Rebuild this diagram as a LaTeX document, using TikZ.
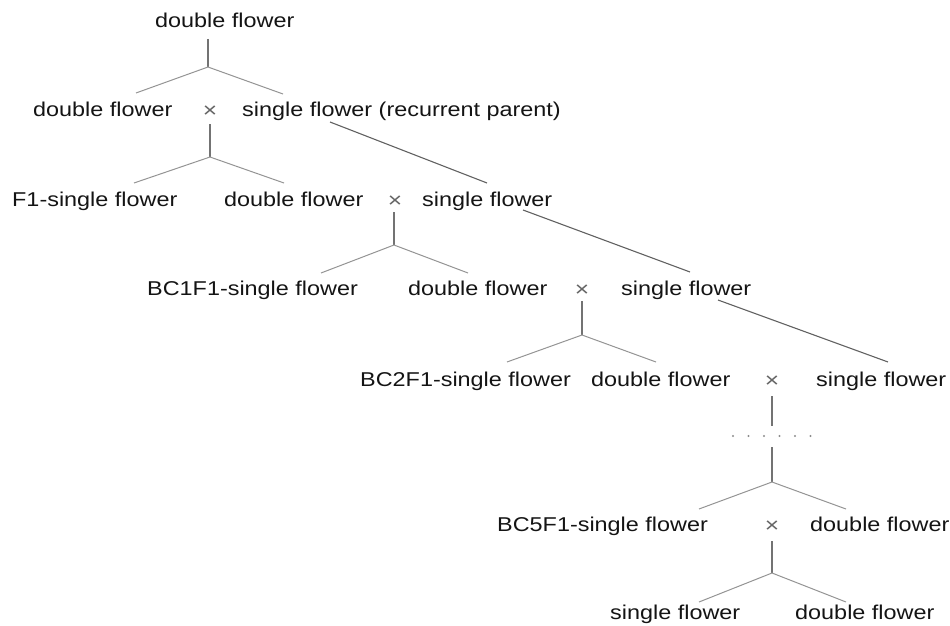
\documentclass[tikz,border=0pt]{standalone}
\usepackage{fontspec}
\setmainfont{Liberation Sans}[FakeStretch=1.17]
\begin{document}
\begin{tikzpicture}[x=1pt,y=-1pt,
  lbl/.style={anchor=base west,inner sep=0pt,font=\fontsize{20}{22}\selectfont,text=black!92},
  cross/.style={anchor=base,inner sep=0pt,font=\fontsize{21}{22}\selectfont,text=black!60},
  stem/.style={draw=black!55,line width=1.1pt},
  branch/.style={draw=black!42,line width=1.0pt},
  recur/.style={draw=black!62,line width=1.1pt},
  dotrow/.style={fill=black!45}]
\useasboundingbox (0,0) rectangle (950,626);

% ---- generation rows ----
\node[lbl] (p0) at (155,28) {double flower};

\node[lbl]   (d1) at (33,116)  {double flower};
\node[cross] (x1) at (210,117) {×};
\node[lbl]   (s1) at (242,116) {single flower (recurrent parent)};

\node[lbl]   (f1) at (12,206)  {F1-single flower};
\node[lbl]   (d2) at (224,206) {double flower};
\node[cross] (x2) at (395,207) {×};
\node[lbl]   (s2) at (422,206) {single flower};

\node[lbl]   (b1) at (147,295) {BC1F1-single flower};
\node[lbl]   (d3) at (408,295) {double flower};
\node[cross] (x3) at (582,296) {×};
\node[lbl]   (s3) at (621,295) {single flower};

\node[lbl]   (b2) at (360,386) {BC2F1-single flower};
\node[lbl]   (d4) at (591,386) {double flower};
\node[cross] (x4) at (772,387) {×};
\node[lbl]   (s4) at (816,386) {single flower};

\node[lbl]   (b5) at (497,531) {BC5F1-single flower};
\node[cross] (x5) at (772,532) {×};
\node[lbl]   (d5) at (810,531) {double flower};

\node[lbl]   (g1) at (610,619) {single flower};
\node[lbl]   (g2) at (795,619) {double flower};

% ---- junction points and branch ends ----
\coordinate (t0) at (208,39);   \coordinate (j0) at (208,67);
\coordinate (l0) at (136,93);   \coordinate (r0) at (283,94);

\coordinate (t1) at (210,124);  \coordinate (j1) at (210,157);
\coordinate (l1) at (134,183);  \coordinate (r1) at (284,183);

\coordinate (t2) at (394,212);  \coordinate (j2) at (394,245);
\coordinate (l2) at (321,273);  \coordinate (r2) at (468,273);

\coordinate (t3) at (582,301);  \coordinate (j3) at (582,335);
\coordinate (l3) at (507,362);  \coordinate (r3) at (656,362);

\coordinate (t4) at (772,396);  \coordinate (m4) at (772,426);
\coordinate (n4) at (772,447);  \coordinate (j4) at (772,482);
\coordinate (l4) at (699,509);  \coordinate (r4) at (846,509);

\coordinate (t5) at (772,541);  \coordinate (j5) at (772,573);
\coordinate (l5) at (699,602);  \coordinate (r5) at (846,602);

% ---- crosses: stem and fork ----
\draw[stem] (t0) -- (j0);
\draw[branch] (l0) -- (j0) -- (r0);
\draw[stem] (t1) -- (j1);
\draw[branch] (l1) -- (j1) -- (r1);
\draw[stem] (t2) -- (j2);
\draw[branch] (l2) -- (j2) -- (r2);
\draw[stem] (t3) -- (j3);
\draw[branch] (l3) -- (j3) -- (r3);
\draw[stem] (t4) -- (m4);
\draw[stem] (n4) -- (j4);
\draw[branch] (l4) -- (j4) -- (r4);
\draw[stem] (t5) -- (j5);
\draw[branch] (l5) -- (j5) -- (r5);

% ---- recurrent parent carried down ----
\coordinate (a1) at (330,122); \coordinate (e1) at (487,183);
\coordinate (a2) at (523,210); \coordinate (e2) at (690,272);
\coordinate (a3) at (718,300); \coordinate (e3) at (888,362);
\draw[recur] (a1) -- (e1);
\draw[recur] (a2) -- (e2);
\draw[recur] (a3) -- (e3);

% ---- skipped generations ----
\foreach \k in {0,...,5}
  \fill[dotrow] (733+\k*15.5,436) circle (1.1);
\end{tikzpicture}
\end{document}
